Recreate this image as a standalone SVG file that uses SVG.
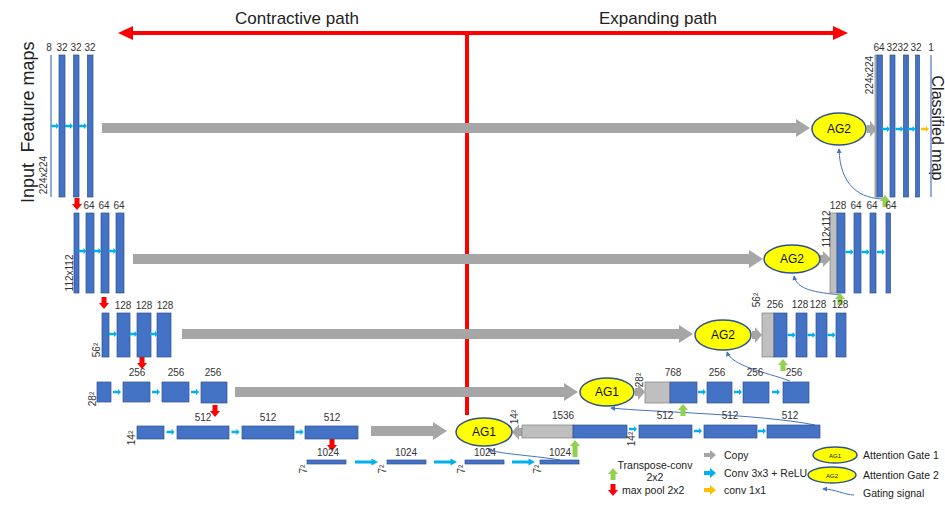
<svg xmlns="http://www.w3.org/2000/svg" width="945" height="505" viewBox="0 0 945 505">
<style>
text{font-family:"Liberation Sans",Arial,sans-serif;fill:#333}
.b{fill:#4472c4;stroke:#2f528f;stroke-width:0.7}
.g{fill:#bfbfbf;stroke:#7f7f7f;stroke-width:0.7}
.thin{stroke:#6f8fd0;stroke-width:1.5}
.lb{font-size:10px;text-anchor:middle}
.rl{font-size:10px;text-anchor:middle}
.big{font-size:18px;text-anchor:middle;fill:#222}
.ttl{font-size:17px;text-anchor:middle;fill:#222}
.cp{fill:#a6a6a6}
.ag ellipse{fill:#ffff00;stroke:#2f528f;stroke-width:1.5}
.ag text{font-size:12px;text-anchor:middle;fill:#111}
.gate{fill:none;stroke:#4472c4;stroke-width:1;marker-end:url(#ga)}
.lg{font-size:10.5px;fill:#222}
.red{fill:#ff0000}
</style>
<defs>
<marker id="ga" viewBox="0 0 6 6" refX="5" refY="3" markerWidth="5" markerHeight="5" orient="auto"><path d="M0,0 L6,3 L0,6 Z" fill="#4472c4"/></marker>
<path id="cy" d="M-4,-1.3 H1 V-3 L4,0 L1,3 V1.3 H-4 Z" fill="#00b0f0"/>
<path id="cyl" d="M-11.5,-1.5 H5 V-3.5 L11.5,0 L5,3.5 V1.5 H-11.5 Z" fill="#00b0f0"/>
<path id="or" d="M-4,-1.3 H1 V-3 L4,0 L1,3 V1.3 H-4 Z" fill="#ffc000"/>
<path id="rd" d="M-2.5,-6 H2.5 V0 H5 L0,6 L-5,0 H-2.5 Z" fill="#ff0000"/>
<path id="gu" d="M-2.5,6 H2.5 V0 H5 L0,-6 L-5,0 H-2.5 Z" fill="#92d050"/>
<path id="lgr" d="M-6,-2 H0 V-5 L6,0 L0,5 V2 H-6 Z" fill="#a6a6a6"/>
<path id="lcy" d="M-6,-2 H0 V-5 L6,0 L0,5 V2 H-6 Z" fill="#00b0f0"/>
<path id="lor" d="M-6,-2 H0 V-5 L6,0 L0,5 V2 H-6 Z" fill="#ffc000"/>
</defs>
<rect width="945" height="505" fill="#ffffff"/>

<g id="paths">
<line x1="130" y1="33" x2="836" y2="33" stroke="#ff0000" stroke-width="4"/>
<polygon class="red" points="118,33 133,26 133,40"/>
<polygon class="red" points="848,33 833,26 833,40"/>
<line x1="467" y1="33" x2="467" y2="415" stroke="#ff0000" stroke-width="4"/>
<text class="ttl" x="297" y="24">Contractive path</text>
<text class="ttl" x="658" y="24">Expanding path</text>
</g>

<g id="side-labels">
<text class="big" transform="translate(34,97) rotate(-90)">Feature maps</text>
<text class="big" transform="translate(34,183) rotate(-90)">Input</text>
<text class="big" transform="translate(932,128) rotate(90)" style="font-size:16px">Classified map</text>
</g>

<g id="connectors">
<polygon class="cp" points="102,123 796,123 796,119 810,128 796,137 796,133 102,133"/>
<polygon class="cp" points="133,254 749,254 749,250 763,259 749,268 749,264 133,264"/>
<polygon class="cp" points="182,329 679,329 679,325 693,334 679,343 679,339 182,339"/>
<polygon class="cp" points="235,387 564,387 564,383 578,392 564,401 564,397 235,397"/>
<polygon class="cp" points="371,426 433,426 433,422 447,431 433,440 433,436 371,436"/>
<polygon class="cp" points="867,125 870,125 870,121 877,129 870,137 870,133 867,133"/>
<polygon class="cp" points="820,255 823,255 823,251 831,259 823,267 823,263 820,263"/>
<polygon class="cp" points="752,331 755,331 755,327 762,335 755,343 755,339 752,339"/>
<polygon class="cp" points="635,388 638,388 638,384 645,392 638,400 638,396 635,396"/>
<polygon class="cp" points="522,428 519,428 519,424 512,432 519,440 519,436 522,436"/>
<path class="gate" d="M885,199 C860,199 840,186 839,149"/>
<path class="gate" d="M840,295 C815,292 797,290 794,276"/>
<path class="gate" d="M790,381 C765,372 732,366 727,352"/>
<path class="gate" d="M815,425 C760,414 650,412 611,408"/>
<path class="gate" d="M560,460 C530,455 497,454 488,449"/>
<use href="#rd" x="77" y="204"/>
<use href="#rd" x="104" y="303"/>
<use href="#rd" x="142" y="363"/>
<use href="#rd" x="215" y="411"/>
<use href="#rd" x="332" y="445"/>
<use href="#gu" x="885" y="201"/>
<use href="#gu" x="840" y="299"/>
<use href="#gu" x="783" y="365"/>
<use href="#gu" x="683" y="410"/>
<path d="M572.5,457 H577.5 V446 H580 L575,440 L570,446 H572.5 Z" fill="#92d050"/>
</g>

<g id="enc1">
<line class="thin" x1="51" y1="55" x2="51" y2="197"/>
<rect class="b" x="59" y="55" width="6" height="142"/>
<rect class="b" x="73.5" y="55" width="5.5" height="142"/>
<rect class="b" x="87.5" y="55" width="5.5" height="142"/>
<use href="#cy" x="55" y="126"/><use href="#cy" x="69" y="126"/><use href="#cy" x="83" y="126"/>
<text class="lb" x="49" y="51">8</text><text class="lb" x="62" y="51">32</text><text class="lb" x="76" y="51">32</text><text class="lb" x="90" y="51">32</text>
<text class="rl" transform="translate(47,175) rotate(-90)">224x224</text>
</g>

<g id="enc2">
<rect class="b" x="74" y="213" width="5" height="80"/>
<rect class="b" x="86" y="213" width="8" height="80"/>
<rect class="b" x="101" y="213" width="8" height="80"/>
<rect class="b" x="116" y="213" width="8" height="80"/>
<use href="#cy" x="82.5" y="251"/><use href="#cy" x="97.5" y="251"/><use href="#cy" x="112.5" y="251"/>
<text class="lb" x="89" y="209">64</text><text class="lb" x="104" y="209">64</text><text class="lb" x="119" y="209">64</text>
<text class="rl" transform="translate(73,273) rotate(-90)">112x112</text>
</g>

<g id="enc3">
<rect class="b" x="102" y="313" width="7" height="44"/>
<rect class="b" x="117" y="313" width="13" height="44"/>
<rect class="b" x="137" y="313" width="14" height="44"/>
<rect class="b" x="157" y="313" width="14" height="44"/>
<use href="#cy" x="113" y="334"/><use href="#cy" x="133.5" y="334"/><use href="#cy" x="154" y="334"/>
<text class="lb" x="123" y="309">128</text><text class="lb" x="144" y="309">128</text><text class="lb" x="165" y="309">128</text>
<text class="rl" transform="translate(100,350) rotate(-90)">56²</text>
</g>

<g id="enc4">
<rect class="b" x="97" y="382" width="14" height="20"/>
<rect class="b" x="123" y="382" width="27" height="20"/>
<rect class="b" x="162" y="382" width="27" height="20"/>
<rect class="b" x="201" y="382" width="26" height="21"/>
<use href="#cy" x="117" y="392"/><use href="#cy" x="156" y="392"/><use href="#cy" x="195" y="392"/>
<text class="lb" x="137" y="376">256</text><text class="lb" x="176" y="376">256</text><text class="lb" x="213" y="376">256</text>
<text class="rl" transform="translate(96,399) rotate(-90)">28²</text>
</g>

<g id="enc5">
<rect class="b" x="137" y="426" width="27" height="13"/>
<rect class="b" x="177" y="426" width="52" height="13"/>
<rect class="b" x="242" y="426" width="52" height="13"/>
<rect class="b" x="305" y="426" width="53" height="13"/>
<use href="#cy" x="170.5" y="432"/><use href="#cy" x="235.5" y="432"/><use href="#cy" x="299.5" y="432"/>
<text class="lb" x="203" y="421">512</text><text class="lb" x="268" y="421">512</text><text class="lb" x="332" y="421">512</text>
<text class="rl" transform="translate(135,438) rotate(-90)">14²</text>
</g>

<g id="bottleneck">
<rect class="b" x="307" y="460" width="39" height="4"/>
<rect class="b" x="387" y="460" width="39" height="4"/>
<rect class="b" x="465" y="460" width="39" height="4"/>
<rect class="b" x="540" y="460" width="39" height="4"/>
<use href="#cyl" x="366.5" y="462"/><use href="#cyl" x="445.5" y="462"/><use href="#cyl" x="523.5" y="462"/>
<text class="lb" x="328" y="456">1024</text><text class="lb" x="406" y="456">1024</text><text class="lb" x="485" y="456">1024</text><text class="lb" x="560" y="456">1024</text>
<text class="rl" transform="translate(307,469) rotate(-90)">7²</text>
<text class="rl" transform="translate(386,469) rotate(-90)">7²</text>
<text class="rl" transform="translate(465,469) rotate(-90)">7²</text>
<text class="rl" transform="translate(541,469) rotate(-90)">7²</text>
</g>

<g id="dec5">
<rect class="g" x="522" y="425" width="51" height="13"/>
<rect class="b" x="573" y="425" width="54" height="13"/>
<rect class="b" x="639" y="425" width="53" height="13"/>
<rect class="b" x="704" y="425" width="53" height="13"/>
<rect class="b" x="767" y="425" width="53" height="13"/>
<use href="#cy" x="633" y="429"/><use href="#cy" x="698" y="431"/><use href="#cy" x="762" y="431"/>
<text class="lb" x="563" y="419">1536</text><text class="lb" x="665" y="419">512</text><text class="lb" x="730" y="419">512</text><text class="lb" x="790" y="419">512</text>
<text class="rl" transform="translate(518,417) rotate(-90)">14²</text>
<text class="rl" transform="translate(635,439) rotate(-90)">14²</text>
</g>

<g id="dec4">
<rect class="g" x="645" y="382" width="25" height="21"/>
<rect class="b" x="670" y="382" width="27" height="21"/>
<rect class="b" x="707" y="382" width="25" height="21"/>
<rect class="b" x="743" y="382" width="26" height="21"/>
<rect class="b" x="783" y="382" width="26" height="21"/>
<use href="#cy" x="702" y="392"/><use href="#cy" x="738" y="392"/><use href="#cy" x="776" y="392"/>
<text class="lb" x="673" y="376">768</text><text class="lb" x="717" y="376">256</text><text class="lb" x="755" y="376">256</text><text class="lb" x="794" y="376">256</text>
<text class="rl" transform="translate(643,380) rotate(-90)">28²</text>
</g>

<g id="dec3">
<rect class="g" x="762" y="313" width="12" height="44"/>
<rect class="b" x="774" y="313" width="13" height="44"/>
<rect class="b" x="796" y="313" width="11" height="44"/>
<rect class="b" x="816" y="313" width="11" height="44"/>
<rect class="b" x="836" y="313" width="10" height="44"/>
<use href="#cy" x="791.5" y="335"/><use href="#cy" x="811.5" y="335"/><use href="#cy" x="831.5" y="335"/>
<text class="lb" x="775" y="308">256</text><text class="lb" x="800" y="308">128</text><text class="lb" x="818" y="308">128</text><text class="lb" x="840" y="308">128</text>
<text class="rl" transform="translate(760,300) rotate(-90)">56²</text>
</g>

<g id="dec2">
<rect class="g" x="830" y="213" width="7" height="80"/>
<rect class="b" x="837" y="213" width="8" height="80"/>
<rect class="b" x="854" y="213" width="7" height="80"/>
<rect class="b" x="870" y="213" width="6" height="80"/>
<rect class="b" x="886" y="213" width="4.5" height="80"/>
<use href="#cy" x="849.5" y="252"/><use href="#cy" x="865.5" y="252"/><use href="#cy" x="881" y="252"/>
<text class="lb" x="838" y="209">128</text><text class="lb" x="856" y="209">64</text><text class="lb" x="872" y="209">64</text><text class="lb" x="891" y="209">64</text>
<text class="rl" transform="translate(830,229) rotate(-90)">112x112</text>
</g>

<g id="dec1">
<rect class="g" x="875" y="55" width="2" height="142"/>
<rect class="b" x="877" y="55" width="5.5" height="142"/>
<rect class="b" x="890" y="55" width="5" height="142"/>
<rect class="b" x="903.5" y="55" width="5" height="142"/>
<rect class="b" x="915.5" y="55" width="4" height="142"/>
<line class="thin" x1="931" y1="55" x2="931" y2="197" stroke="#8fa8e0"/>
<use href="#cy" x="886" y="129"/><use href="#cy" x="899.5" y="129"/><use href="#cy" x="911.5" y="129"/>
<use href="#or" x="925" y="129"/>
<text class="lb" x="879" y="51">64</text><text class="lb" x="892" y="51">32</text><text class="lb" x="903" y="51">32</text><text class="lb" x="916" y="51">32</text><text class="lb" x="931" y="51">1</text>
<text class="rl" transform="translate(873,75) rotate(-90)">224x224</text>
</g>

<g id="ag-l1" class="ag"><ellipse cx="839" cy="129" rx="27" ry="16"/><text x="839" y="133">AG2</text></g>
<g id="ag-l2" class="ag"><ellipse cx="792" cy="259" rx="28" ry="14"/><text x="792" y="263">AG2</text></g>
<g id="ag-l3" class="ag"><ellipse cx="723" cy="335" rx="28" ry="15"/><text x="723" y="339">AG2</text></g>
<g id="ag-l4" class="ag"><ellipse cx="607" cy="392" rx="27" ry="14"/><text x="607" y="396">AG1</text></g>
<g id="ag-l5" class="ag"><ellipse cx="484" cy="432" rx="28" ry="14"/><text x="484" y="436">AG1</text></g>

<g id="legend">
<use href="#lgr" x="710" y="455"/>
<text class="lg" x="724" y="459">Copy</text>
<use href="#gu" x="613" y="474"/>
<text class="lg" x="655" y="469" text-anchor="middle">Transpose-conv</text>
<text class="lg" x="655" y="481" text-anchor="middle">2x2</text>
<use href="#lcy" x="710" y="473"/>
<text class="lg" x="724" y="477">Conv 3x3 + ReLU</text>
<use href="#rd" x="613" y="490"/>
<text class="lg" x="622" y="494">max pool 2x2</text>
<use href="#lor" x="710" y="490"/>
<text class="lg" x="724" y="494">conv 1x1</text>
<g class="ag"><ellipse cx="835" cy="455" rx="22" ry="8"/><text x="835" y="457.5" style="font-size:6px">AG1</text></g>
<text class="lg" x="863" y="459">Attention Gate 1</text>
<g class="ag"><ellipse cx="832" cy="475" rx="24" ry="8"/><text x="832" y="477.5" style="font-size:6px">AG2</text></g>
<text class="lg" x="863" y="479">Attention Gate 2</text>
<path class="gate" d="M854,495 C845,495 835,489 823,489"/>
<text class="lg" x="863" y="497">Gating signal</text>
</g>
</svg>
